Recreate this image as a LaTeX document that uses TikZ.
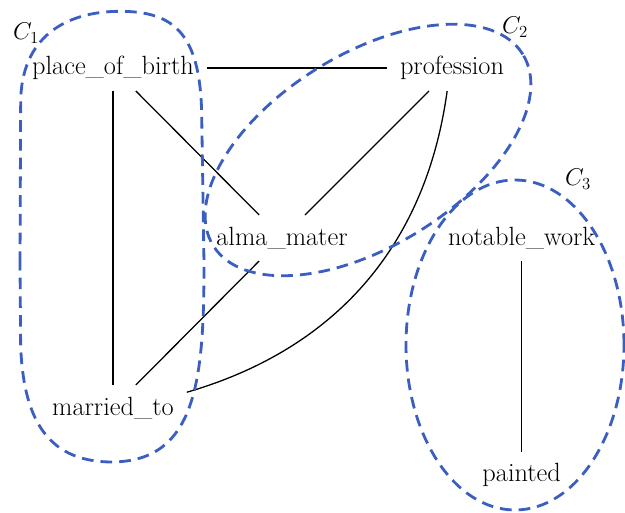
\documentclass[tikz,border=0pt]{standalone}
\usepackage{xcolor}
\usepackage{tikz}
\usetikzlibrary{positioning}
\definecolor{clublue}{HTML}{3B5FC0}

\begin{document}
\begin{tikzpicture}[line width=1.1pt]
  \tikzstyle{rel}=[inner xsep=3.9mm,inner ysep=0pt,minimum height=13.8mm,outer sep=0pt,font=\fontsize{22.5}{27}\selectfont]
  \tikzstyle{cluster}=[draw=clublue,line width=2.4pt,dash pattern=on 10pt off 6pt]
  \tikzstyle{tag}=[font=\fontsize{22.5}{27}\selectfont,inner sep=0pt]
  \useasboundingbox (0,0) rectangle (18.75,15.39);
  \node[rel] (pob) at (3.39,13.35) {place\_of\_birth};
  \node[rel] (prof) at (13.56,13.35) {profession};
  \node[rel] (alma) at (8.46,8.25) {alma\_mater};
  \node[rel] (nw) at (15.65,8.25) {notable\_work};
  \node[rel] (mar) at (3.39,3.15) {married\_to};
  \node[rel] (pai) at (15.65,1.14) {painted};
  \draw (pob) -- (prof);
  \draw (pob) -- (mar);
  \draw (pob) -- (alma);
  \draw (prof) -- (alma);
  \draw (alma) -- (mar);
  \draw (prof) to[bend left=33] (mar);
  \draw (nw) -- (pai);
  % clusters
  \draw[cluster] (0.60,7.5) -- (0.62,12.3)
    .. controls (0.62,14.3) and (2.0,15.05) .. (3.6,15.05)
    .. controls (5.2,15.05) and (6.0,14.4) .. (6.05,12.0)
    -- (6.12,7.5)
    .. controls (6.12,4.0) and (5.9,1.55) .. (3.36,1.53)
    .. controls (1.3,1.53) and (0.7,3.0) .. (0.62,5.0) -- cycle;
  \draw[cluster,rotate around={31.7:(11.04,10.89)}] (11.04,10.89) ellipse [x radius=5.46cm,y radius=2.88cm];
  \draw[cluster] (15.45,5.04) ellipse [x radius=3.27cm,y radius=4.95cm];
  \node[tag] (c1) at (0.78,14.40) {$C_1$};
  \node[tag] (c2) at (15.45,14.58) {$C_2$};
  \node[tag] (c3) at (17.34,10.02) {$C_3$};
\end{tikzpicture}
\end{document}
